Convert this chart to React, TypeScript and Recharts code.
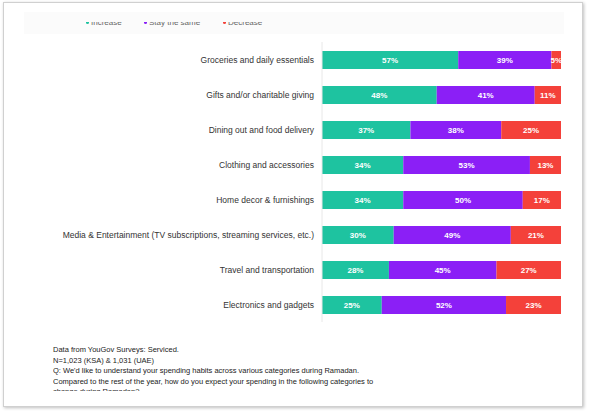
import { BarChart, Bar, XAxis, YAxis, LabelList } from "recharts";

const categories = [
  "Groceries and daily essentials",
  "Gifts and/or charitable giving",
  "Dining out and food delivery",
  "Clothing and accessories",
  "Home decor & furnishings",
  "Media & Entertainment (TV subscriptions, streaming services, etc.)",
  "Travel and transportation",
  "Electronics and gadgets",
];

const increase = [57, 48, 37, 34, 34, 30, 28, 25];
const staySame = [39, 41, 38, 53, 50, 49, 45, 52];
const decrease = [5, 11, 25, 13, 17, 21, 27, 23];

const notes = [
  "Data from YouGov Surveys: Serviced.",
  "N=1,023 (KSA) & 1,031 (UAE)",
  "Q: We'd like to understand your spending habits across various categories during Ramadan.",
  "Compared to the rest of the year, how do you expect your spending in the following categories to",
  "change during Ramadan?",
];

const SERIES = [
  { key: "increase", name: "Increase", color: "#1ec3a0", w: 58 },
  { key: "same", name: "Stay the same", color: "#8b1ff6", w: 79 },
  { key: "decrease", name: "Decrease", color: "#f4413a", w: 60 },
];

const data = categories.map((name, i) => ({
  name,
  increase: increase[i],
  same: staySame[i],
  decrease: decrease[i],
}));

const FONT = "'Liberation Sans', Arial, sans-serif";
const pct = (v: number) => `${v}%`;

// single-line category label, right aligned against the axis
function CategoryTick(props: any) {
  const { x, y, payload } = props;
  return (
    <text x={x} y={y} dy={3} textAnchor="end" fontSize={8.5} fill="#333" fontFamily={FONT}>
      {payload.value}
    </text>
  );
}

// legend sits half hidden under the slide's top edge
function LegendRow() {
  return (
    <div style={{ position: "absolute", left: 86, top: 22, height: 5, overflow: "hidden" }}>
      <div style={{ display: "flex", marginTop: -4, fontSize: 8, color: "#666", fontFamily: FONT }}>
        {SERIES.map((s) => (
          <span key={s.key} style={{ display: "flex", alignItems: "center", width: s.w }}>
            <span style={{ width: 3, height: 3, borderRadius: 2, background: s.color, marginRight: 2 }} />
            {s.name}
          </span>
        ))}
      </div>
    </div>
  );
}

export default function App() {
  return (
    <div style={{ position: "fixed", left: 0, top: 0, width: 593, height: 414, background: "#fff", fontFamily: FONT }}>
      <div
        style={{
          position: "absolute",
          left: 3,
          top: 2,
          width: 578,
          height: 403,
          border: "1px solid #d0d0d0",
          boxShadow: "1px 1px 3px rgba(0,0,0,0.25)",
          background: "#fff",
        }}
      />
      <div style={{ position: "absolute", left: 24, top: 12, width: 540, height: 22, background: "#fbfbfb" }} />
      <LegendRow />
      <div style={{ position: "absolute", left: 0, top: 0 }}>
        <BarChart
          width={593}
          height={330}
          data={data}
          layout="vertical"
          margin={{ top: 42, right: 32, bottom: 8, left: 0 }}
          barSize={18}
        >
          <XAxis type="number" hide domain={[0, 100]} allowDataOverflow />
          <YAxis
            type="category"
            dataKey="name"
            width={322}
            tickLine={false}
            axisLine={{ stroke: "#e8e8e8" }}
            tick={<CategoryTick />}
            interval={0}
          />
          {SERIES.map((s) => (
            <Bar key={s.key} dataKey={s.key} name={s.name} stackId="a" fill={s.color} isAnimationActive={false}>
              <LabelList
                dataKey={s.key}
                position="center"
                formatter={pct}
                style={{ fill: "#fff", fontSize: 8, fontWeight: 700, fontFamily: FONT }}
              />
            </Bar>
          ))}
        </BarChart>
      </div>
      <div
        style={{
          position: "absolute",
          left: 53,
          top: 345,
          width: 420,
          height: 46,
          overflow: "hidden",
          fontSize: 7.5,
          lineHeight: "10.5px",
          color: "#222",
        }}
      >
        {notes.map((t) => (
          <div key={t} style={{ whiteSpace: "nowrap" }}>{t}</div>
        ))}
      </div>
    </div>
  );
}
